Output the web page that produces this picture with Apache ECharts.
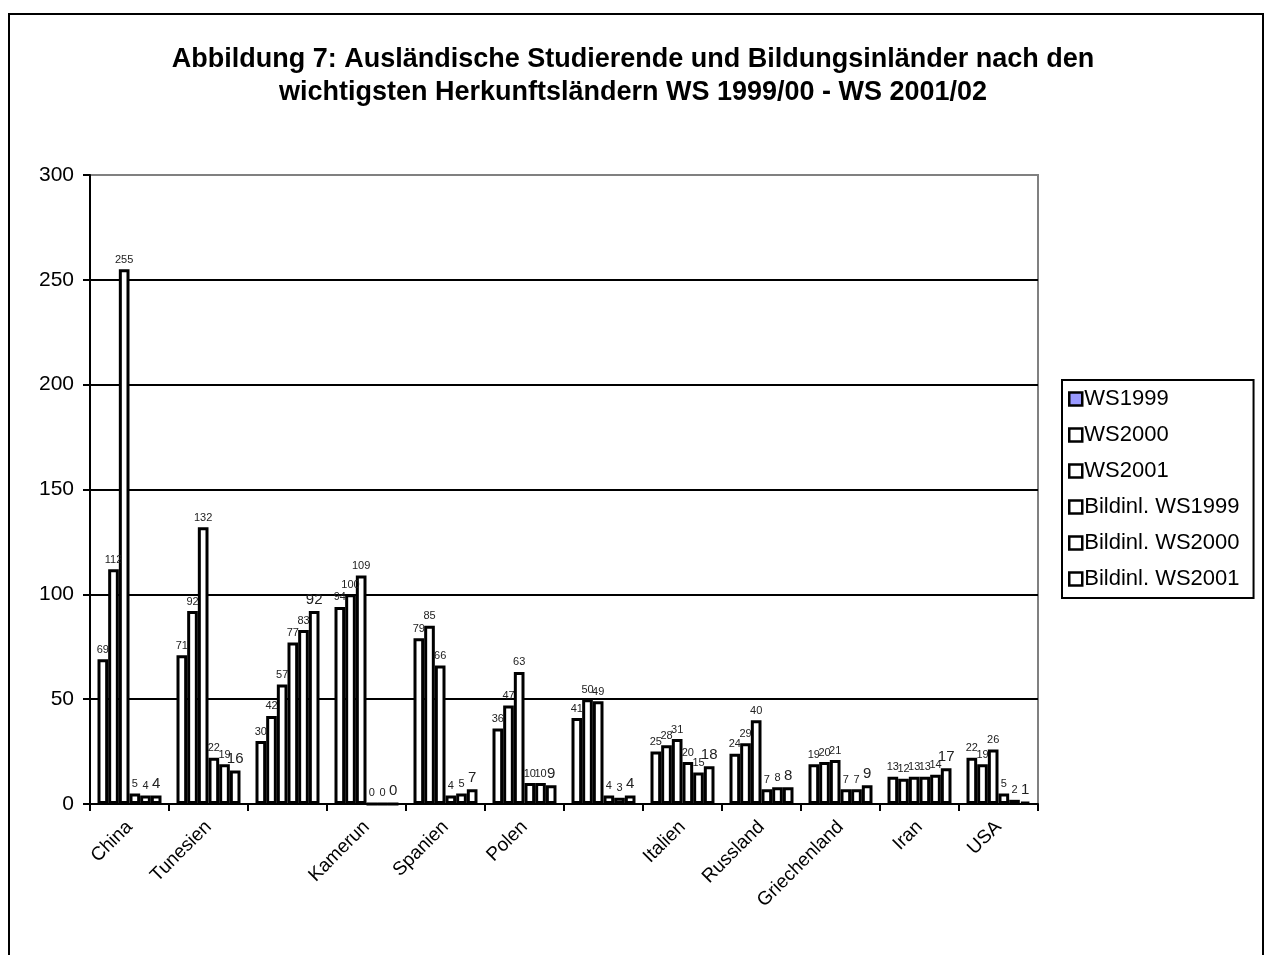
<!DOCTYPE html>
<html>
<head>
<meta charset="utf-8">
<title>Abbildung 7</title>
<script src="https://cdn.jsdelivr.net/npm/echarts@6/dist/echarts.min.js"></script>
<style>
  html, body { margin: 0; padding: 0; background: #fff; }
  #main { width: 1266px; height: 955px; }
</style>
</head>
<body>
<div id="main"></div>
<script>
// Herkunftsländer (zwei Kategorien ohne Beschriftung im Original)
const countries = ["China", "Tunesien", "", "Kamerun", "Spanien", "Polen", "", "Italien", "Russland", "Griechenland", "Iran", "USA"]

const ws1999 = [69, 71, 30, 94, 79, 36, 41, 25, 24, 19, 13, 22]
const ws2000 = [112, 92, 42, 100, 85, 47, 50, 28, 29, 20, 12, 19]
const ws2001 = [255, 132, 57, 109, 66, 63, 49, 31, 40, 21, 13, 26]
const bild1999 = [5, 22, 77, 0, 4, 10, 4, 20, 7, 7, 13, 5]
const bild2000 = [4, 19, 83, 0, 5, 10, 3, 15, 8, 7, 14, 2]
const bild2001 = [4, 16, 92, 0, 7, 9, 4, 18, 8, 9, 17, 1]

const yTicks = { min: 0, max: 300, step: 50 }

const font = "Arial, 'Liberation Sans', sans-serif"

const seriesList = [
  { name: "WS1999", data: ws1999 },
  { name: "WS2000", data: ws2000 },
  { name: "WS2001", data: ws2001 },
  { name: "Bildinl. WS1999", data: bild1999 },
  { name: "Bildinl. WS2000", data: bild2000 },
  { name: "Bildinl. WS2001", data: bild2001 },
]

const chart = echarts.init(document.getElementById("main"))

chart.setOption({
  animation: false,
  backgroundColor: "#fff",
  textStyle: { fontFamily: font },
  graphic: [
    {
      // Rahmen um das ganze Diagramm
      type: "rect",
      shape: { x: 9, y: 14, width: 1254, height: 960 },
      style: { fill: "none", stroke: "#000", lineWidth: 2 },
      silent: true,
    },
  ],
  title: {
    text: "Abbildung 7: Ausländische Studierende und Bildungsinländer nach den\nwichtigsten Herkunftsländern WS 1999/00 - WS 2001/02",
    left: "center",
    top: 38,
    textStyle: {
      fontFamily: font,
      fontSize: 27,
      fontWeight: "bold",
      color: "#000",
      lineHeight: 33,
    },
  },
  legend: {
    orient: "vertical",
    left: 1062,
    top: 380,
    padding: [8, 14, 8, 6],
    itemGap: 14,
    itemWidth: 13,
    itemHeight: 13,
    icon: "rect",
    backgroundColor: "#fff",
    borderColor: "#000",
    borderWidth: 2,
    textStyle: { fontFamily: font, fontSize: 22, color: "#000", lineHeight: 22, padding: [0, 0, 0, -3] },
    itemStyle: { color: "#fff", borderColor: "#000", borderWidth: 2.5 },
    data: seriesList.map((s, i) =>
      i === 0 ? { name: s.name, itemStyle: { color: "#9999ff" } } : { name: s.name }
    ),
  },
  grid: {
    left: 90,
    right: 228,
    top: 175,
    bottom: 151,
    show: true,
    borderColor: "#808080",
    borderWidth: 2,
  },
  xAxis: {
    type: "category",
    data: countries,
    axisLine: { lineStyle: { color: "#000", width: 2 } },
    axisTick: { show: true, length: 7, lineStyle: { color: "#000", width: 2 } },
    axisLabel: {
      interval: 0,
      rotate: 45,
      margin: 20,
      fontFamily: font,
      fontSize: 19,
      color: "#000",
    },
  },
  yAxis: {
    type: "value",
    min: yTicks.min,
    max: yTicks.max,
    interval: yTicks.step,
    axisLine: { show: true, lineStyle: { color: "#000", width: 2 } },
    axisTick: { show: true, length: 7, lineStyle: { color: "#000", width: 2 } },
    axisLabel: { fontFamily: font, fontSize: 21, color: "#000", margin: 16 },
    splitLine: { show: true, showMaxLine: false, lineStyle: { color: "#000", width: 2 } },
  },
  series: seriesList.map((s, i) => ({
    name: s.name,
    type: "bar",
    data: s.data,
    barGap: "0%",
    barCategoryGap: "19%",
    itemStyle: { color: "#fff", borderColor: "#000", borderWidth: 3 },
    label: {
      show: true,
      position: "top",
      distance: 4,
      fontFamily: font,
      fontSize: i === 5 ? 15 : 11,
      color: "#222",
    },
  })),
})

window.addEventListener("resize", () => {
  chart.resize()
})
</script>
</body>
</html>
